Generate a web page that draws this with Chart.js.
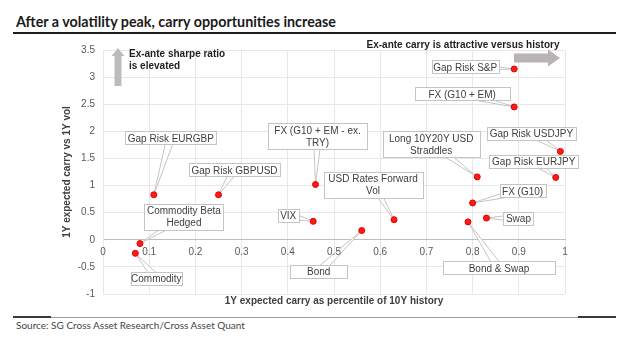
<!DOCTYPE html>
<html>
<head>
<meta charset="utf-8">
<script src="https://cdn.jsdelivr.net/npm/chart.js@4.4.1/dist/chart.umd.min.js"></script>
<style>
  html, body { margin: 0; padding: 0; background: #fff; }
  #page { position: relative; width: 624px; height: 354px; overflow: hidden; }
  #title { position: absolute; left: 16px; top: 13px; font: bold 14.3px Lato, sans-serif; color: #1a1a1a; white-space: nowrap; }
  #ruleTop { position: absolute; left: 13px; top: 32px; width: 603px; height: 2px; background: #1e1e1e; }
  #ruleBottom { position: absolute; left: 13px; top: 317px; width: 603px; height: 1px; background: #9a9a9a; }
  .ruleEnd { position: absolute; top: 316px; height: 2px; background: #3a3a3a; }
  #source { position: absolute; left: 16px; top: 319px; font: 10px Lato, sans-serif; color: #444; white-space: nowrap; }
  #wrap { position: absolute; left: 0; top: 36px; width: 624px; height: 276px; }
</style>
</head>
<body>
<div id="page">
  <div id="title">After a volatility peak, carry opportunities increase</div>
  <div id="ruleTop"></div>
  <div id="wrap"><canvas id="carryChart"></canvas></div>
  <div id="ruleBottom"></div>
  <div class="ruleEnd" style="left:13px;width:38px"></div>
  <div class="ruleEnd" style="left:578px;width:38px"></div>
  <div id="source">Source: SG Cross Asset Research/Cross Asset Quant</div>
</div>
<script>
// data
const labels = [
  'Gap Risk S&P', 'FX (G10 + EM)', 'Gap Risk USDJPY', 'Gap Risk EURJPY',
  'Long 10Y20Y USD\nStraddles', 'FX (G10 + EM - ex.\nTRY)', 'USD Rates Forward\nVol',
  'FX (G10)', 'Swap', 'Bond & Swap', 'Bond', 'VIX',
  'Gap Risk GBPUSD', 'Gap Risk EURGBP', 'Commodity Beta\nHedged', 'Commodity'
];
const carryPercentile = [0.89, 0.89, 0.99, 0.98, 0.81, 0.46, 0.63, 0.80, 0.83, 0.79, 0.56, 0.455, 0.25, 0.11, 0.08, 0.07];
const carryVsVol = [3.15, 2.45, 1.63, 1.15, 1.16, 1.02, 0.37, 0.68, 0.40, 0.33, 0.17, 0.34, 0.83, 0.83, -0.07, -0.25];

const xTickValues = [0, 0.1, 0.2, 0.3, 0.4, 0.5, 0.6, 0.7, 0.8, 0.9, 1];
const yTickValues = [-1, -0.5, 0, 0.5, 1, 1.5, 2, 2.5, 3, 3.5];

// callout box placement: [dx, dy, width] in px from the point
const calloutLayout = [
  [-49, -2, 67], [-52, -13, 95], [-29, -18, 89], [-22, -16, 89],
  [-46, -33, 97], [2, -48, 99], [-21, -35, 99],
  [50, -12, 46], [32, 0, 30], [31, 46, 112], [-43, 41, 57], [-25, -6, 21],
  [16, -25, 91], [17, -57, 91], [44, -27, 79], [21, 25, 51]
];

const FONT = '"Liberation Sans", Arial, sans-serif';

const calloutPlugin = {
  id: 'callouts',
  beforeDatasetsDraw(chart) {
    const ctx = chart.ctx;
    const meta = chart.getDatasetMeta(0);
    ctx.save();
    ctx.font = '10px ' + FONT;
    ctx.lineWidth = 1;
    meta.data.forEach((pt, i) => {
      const [dx, dy, w] = calloutLayout[i];
      const lines = labels[i].split('\n');
      const h = lines.length > 1 ? 26 : 13;
      const cx = pt.x + dx, cy = pt.y + dy;
      // pointer wedge
      const ang = Math.atan2(pt.y - cy, pt.x - cx);
      const nx = -Math.sin(ang) * 4, ny = Math.cos(ang) * 4;
      ctx.beginPath();
      ctx.moveTo(cx + nx, cy + ny);
      ctx.lineTo(pt.x, pt.y);
      ctx.lineTo(cx - nx, cy - ny);
      ctx.closePath();
      ctx.fillStyle = '#fff';
      ctx.fill();
      ctx.strokeStyle = '#c4c4c4';
      ctx.stroke();
      // box
      const bx = Math.round(cx - w / 2) + 0.5, by = Math.round(cy - h / 2) + 0.5;
      ctx.fillRect(bx, by, w, h);
      ctx.strokeRect(bx, by, w, h);
      ctx.fillStyle = '#404040';
      ctx.textAlign = 'center';
      ctx.textBaseline = 'middle';
      lines.forEach((ln, k) => ctx.fillText(ln, cx, cy + 1 + (k - (lines.length - 1) / 2) * 12));
    });
    ctx.restore();
  }
};

const notesPlugin = {
  id: 'notes',
  afterDraw(chart) {
    const ctx = chart.ctx;
    const area = chart.chartArea;
    ctx.save();
    ctx.fillStyle = '#bcbcbc';
    // up arrow
    const ux = 118, uTop = 12, uBot = 50;
    ctx.beginPath();
    ctx.moveTo(ux, uTop);
    ctx.lineTo(ux + 6.5, uTop + 8);
    ctx.lineTo(ux + 3.5, uTop + 8);
    ctx.lineTo(ux + 3.5, uBot);
    ctx.lineTo(ux - 3.5, uBot);
    ctx.lineTo(ux - 3.5, uTop + 8);
    ctx.lineTo(ux - 6.5, uTop + 8);
    ctx.closePath();
    ctx.fill();
    // right arrow
    ctx.fillStyle = '#b9b3b3';
    const rL = 514, rR = 560, ry = 22;
    ctx.beginPath();
    ctx.moveTo(rL, ry - 4.5);
    ctx.lineTo(rR - 12, ry - 4.5);
    ctx.lineTo(rR - 12, ry - 8.5);
    ctx.lineTo(rR, ry);
    ctx.lineTo(rR - 12, ry + 8.5);
    ctx.lineTo(rR - 12, ry + 4.5);
    ctx.lineTo(rL, ry + 4.5);
    ctx.closePath();
    ctx.fill();

    ctx.fillStyle = '#1f1f1f';
    ctx.font = 'bold 10px ' + FONT;
    ctx.textBaseline = 'middle';
    ctx.textAlign = 'left';
    ctx.fillText('Ex-ante sharpe ratio', 129, 18);
    ctx.fillText('is elevated', 129, 30);
    ctx.textAlign = 'center';
    ctx.fillText('Ex-ante carry is attractive versus history', 463, 9);

    // x axis title
    ctx.fillStyle = '#404040';
    ctx.fillText('1Y expected carry as percentile of 10Y history', (area.left + area.right) / 2, area.bottom + 7);
    ctx.restore();
  }
};

new Chart(document.getElementById('carryChart'), {
  type: 'scatter',
  data: {
    datasets: [{
      data: carryPercentile.map((x, i) => ({ x: x, y: carryVsVol[i] })),
      backgroundColor: '#ff1a1a',
      borderColor: '#e00000',
      borderWidth: 1,
      pointRadius: 3,
      pointHoverRadius: 3
    }]
  },
  options: {
    responsive: true,
    maintainAspectRatio: false,
    animation: false,
    layout: { padding: { left: 0, right: 59, top: 9, bottom: 18 } },
    scales: {
      x: {
        type: 'linear',
        position: { y: 0 },
        min: 0,
        max: 1,
        afterBuildTicks: s => { s.ticks = xTickValues.map(v => ({ value: v })); },
        ticks: {
          color: '#595959',
          font: { size: 10, family: FONT },
          padding: 6,
          maxRotation: 0,
          autoSkip: false,
          z: 1,
          callback: v => String(v)
        },
        grid: { color: '#e8e8e8', drawTicks: false },
        border: { display: true, color: '#bdbdbd', width: 1 }
      },
      y: {
        type: 'linear',
        min: -1,
        max: 3.5,
        afterBuildTicks: s => { s.ticks = yTickValues.map(v => ({ value: v })); },
        afterFit: s => { s.width = 103; },
        ticks: {
          color: '#595959',
          font: { size: 10, family: FONT },
          padding: 8,
          callback: v => String(v)
        },
        grid: { color: '#e8e8e8', drawTicks: false },
        border: { display: true, color: '#e8e8e8' },
        title: {
          display: true,
          text: '1Y expected carry vs 1Y vol',
          color: '#404040',
          font: { size: 10, weight: 'bold', family: FONT },
          padding: { top: 61, bottom: 0 }
        }
      }
    },
    plugins: {
      legend: { display: false },
      tooltip: { enabled: false }
    }
  },
  plugins: [calloutPlugin, notesPlugin]
});
</script>
</body>
</html>
